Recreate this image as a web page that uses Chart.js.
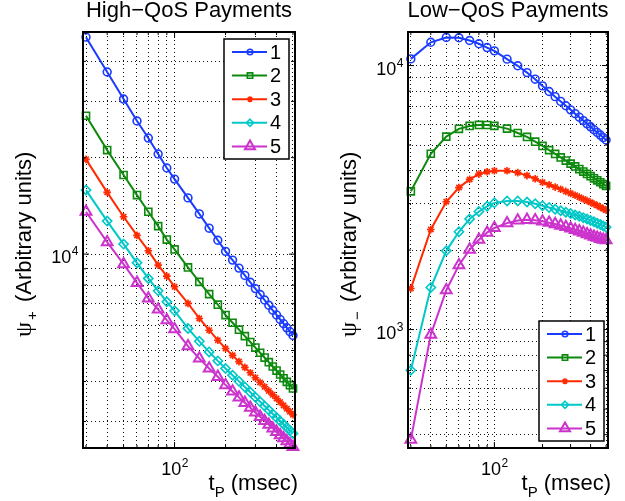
<!DOCTYPE html>
<html>
<head>
<meta charset="utf-8">
<script src="https://cdn.jsdelivr.net/npm/chart.js@4/dist/chart.umd.min.js"></script>
<style>
body { margin: 0; background: #fff; }
#wrap { position: relative; width: 625px; height: 501px; }
canvas { position: absolute; left: 0; top: 0; }
</style>
</head>
<body>
<div id="wrap">
  <canvas id="hi" width="625" height="501"></canvas>
  <canvas id="lo" width="625" height="501"></canvas>
</div>
<script>
// t_P (msec)
var tP = [30, 40, 50, 60, 70, 80, 90, 100, 120, 140, 160, 180, 200, 220, 240, 260, 280, 300, 320, 340, 360, 380, 400, 420, 440, 460, 480, 500];

// High-QoS payments, psi_+
var hq1 = [47600, 37050, 30500, 26040, 23040, 20540, 18570, 17150, 14980, 13350, 12050, 11050, 10200, 9578, 9043, 8578, 8168, 7805, 7480, 7187, 6921, 6678, 6456, 6251, 6062, 5886, 5723, 5571];
var hq2 = [27050, 21130, 17660, 15290, 13560, 12230, 11100, 10345, 9087, 8190, 7500, 6950, 6450, 6106, 5807, 5545, 5314, 5107, 4920, 4752, 4597, 4457, 4327, 4207, 4096, 3992, 3896, 3805];
var hq3 = [19770, 15590, 13080, 11440, 10250, 9240, 8535, 7905, 7015, 6295, 5786, 5385, 5075, 4829, 4616, 4428, 4260, 4111, 3975, 3851, 3739, 3635, 3539, 3451, 3368, 3291, 3219, 3151];
var hq4 = [15850, 12680, 10745, 9393, 8397, 7678, 7096, 6650, 5860, 5340, 4950, 4640, 4395, 4187, 4005, 3845, 3702, 3574, 3458, 3353, 3257, 3168, 3086, 3011, 2940, 2874, 2812, 2754];
var hq5 = [13560, 10900, 9305, 8135, 7275, 6716, 6220, 5830, 5160, 4720, 4395, 4139, 3899, 3723, 3569, 3433, 3312, 3203, 3104, 3014, 2932, 2856, 2786, 2721, 2660, 2603, 2550, 2500];

// Low-QoS payments, psi_-
var lq1 = [10600, 12250, 12780, 12740, 12440, 12090, 11700, 11370, 10575, 9980, 9406, 8880, 8375, 7974, 7625, 7316, 7042, 6797, 6574, 6373, 6187, 6017, 5861, 5715, 5580, 5454, 5336, 5225];
var lq2 = [3340, 4635, 5380, 5760, 5905, 5960, 5955, 5910, 5770, 5555, 5365, 5150, 4960, 4783, 4628, 4489, 4365, 4252, 4149, 4054, 3967, 3887, 3811, 3741, 3676, 3614, 3556, 3502];
var lq3 = [1430, 2395, 3050, 3450, 3705, 3880, 3963, 3995, 3995, 3930, 3830, 3725, 3613, 3535, 3464, 3398, 3337, 3280, 3225, 3174, 3125, 3078, 3033, 2990, 2949, 2909, 2871, 2834];
var lq4 = [701, 1443, 1987, 2346, 2625, 2800, 2930, 3020, 3070, 3070, 3040, 2995, 2945, 2900, 2858, 2818, 2784, 2752, 2718, 2686, 2654, 2622, 2591, 2561, 2530, 2500, 2470, 2440];
var lq5 = [383, 957, 1410, 1754, 2010, 2190, 2330, 2425, 2530, 2590, 2605, 2595, 2570, 2540, 2510, 2478, 2447, 2416, 2386, 2356, 2327, 2299, 2272, 2250, 2228, 2207, 2190, 2180];

var seriesNames = ['1', '2', '3', '4', '5'];
var colors = ['#1a3cff', '#0d8a0d', '#ff2a00', '#00c8c8', '#cc33cc'];
var markers = ['circle', 'rect', 'star', 'rectRot', 'triangle'];
var markerSize = [3.9, 5, 3.8, 4.6, 6.2];
var markerBorder = [1.6, 1.6, 1.6, 1.6, 2];
var legendMarkerSize = [2.8, 3.8, 3, 3.6, 5.8];

// grid / tick values
var xTicks = [30, 40, 50, 60, 70, 80, 90, 100, 200, 300, 400, 500];
var hiYTicks = [3000, 4000, 5000, 6000, 7000, 8000, 9000, 10000, 20000, 30000, 40000];
var loYTicks = [400, 500, 600, 700, 800, 900, 1000, 2000, 3000, 4000, 5000, 6000, 7000, 8000, 9000, 10000];
var xLabelAt = [100];
var hiYLabelAt = [10000];
var loYLabelAt = [1000, 10000];

function drawMarker(ctx, style, x, y, r) {
  ctx.beginPath();
  if (style === 'circle') {
    ctx.arc(x, y, r, 0, 2 * Math.PI);
  } else if (style === 'rect') {
    var h = r * 0.707;
    ctx.rect(x - h, y - h, 2 * h, 2 * h);
  } else if (style === 'rectRot') {
    ctx.moveTo(x, y - r); ctx.lineTo(x + r, y); ctx.lineTo(x, y + r); ctx.lineTo(x - r, y); ctx.closePath();
  } else if (style === 'triangle') {
    for (var k = 0; k < 3; k++) {
      var a = k * 2 * Math.PI / 3;
      if (k === 0) ctx.moveTo(x + Math.sin(a) * r, y - Math.cos(a) * r);
      else ctx.lineTo(x + Math.sin(a) * r, y - Math.cos(a) * r);
    }
    ctx.closePath();
  } else if (style === 'star') {
    var d = r * 0.707;
    ctx.moveTo(x - r, y); ctx.lineTo(x + r, y);
    ctx.moveTo(x, y - r); ctx.lineTo(x, y + r);
    ctx.moveTo(x - d, y - d); ctx.lineTo(x + d, y + d);
    ctx.moveTo(x - d, y + d); ctx.lineTo(x + d, y - d);
  }
  ctx.stroke();
}

function powLabel(ctx, exp, x, y, align) {
  ctx.font = '18px "Liberation Sans", Arial, sans-serif';
  var w1 = ctx.measureText('10').width;
  ctx.font = '12px "Liberation Sans", Arial, sans-serif';
  var w2 = ctx.measureText(String(exp)).width;
  var x0 = align === 'right' ? x - w1 - w2 : x - (w1 + w2) / 2;
  ctx.textAlign = 'left';
  ctx.textBaseline = 'alphabetic';
  ctx.font = '18px "Liberation Sans", Arial, sans-serif';
  ctx.fillText('10', x0, y);
  ctx.font = '12px "Liberation Sans", Arial, sans-serif';
  ctx.fillText(String(exp), x0 + w1 + 0.5, y - 8);
}

function makeDeco(cfg) {
  return {
    id: 'deco',
    afterDraw: function (chart) {
      var ctx = chart.ctx;
      var a = chart.chartArea;
      var xs = chart.scales.x, ys = chart.scales.y;
      ctx.save();
      ctx.fillStyle = '#000';
      ctx.strokeStyle = '#000';

      // inward tick marks on all four sides
      ctx.lineWidth = 1;
      ctx.beginPath();
      xs.ticks.forEach(function (t) {
        var p = xs.getPixelForValue(t.value);
        var len = Math.abs(Math.log10(t.value) % 1) < 1e-9 ? 6 : 3;
        ctx.moveTo(p, a.bottom); ctx.lineTo(p, a.bottom - len);
        ctx.moveTo(p, a.top); ctx.lineTo(p, a.top + len);
      });
      ys.ticks.forEach(function (t) {
        var p = ys.getPixelForValue(t.value);
        var len = Math.abs(Math.log10(t.value) % 1) < 1e-9 ? 6 : 3;
        ctx.moveTo(a.left, p); ctx.lineTo(a.left + len, p);
        ctx.moveTo(a.right, p); ctx.lineTo(a.right - len, p);
      });
      ctx.stroke();

      // axes box
      ctx.lineWidth = 2;
      ctx.strokeRect(a.left, a.top, a.right - a.left, a.bottom - a.top);

      // tick labels
      cfg.xLabelAt.forEach(function (v) {
        powLabel(ctx, Math.round(Math.log10(v)), xs.getPixelForValue(v), 475, 'center');
      });
      cfg.yLabelAt.forEach(function (v) {
        powLabel(ctx, Math.round(Math.log10(v)), a.left - 5, ys.getPixelForValue(v) + 9, 'right');
      });

      // title
      ctx.font = '22px "Liberation Sans", Arial, sans-serif';
      ctx.textAlign = 'center';
      ctx.textBaseline = 'alphabetic';
      ctx.fillText(cfg.title, (a.left + a.right) / 2, 17);

      // x label: t_P (msec), right aligned to the axes
      ctx.textAlign = 'left';
      ctx.font = '22px "Liberation Sans", Arial, sans-serif';
      var wt = ctx.measureText('t').width;
      var wm = ctx.measureText(' (msec)').width;
      ctx.font = '15px "Liberation Sans", Arial, sans-serif';
      var wp = ctx.measureText('P').width;
      var x0 = a.right + 3 - (wt + wp + wm);
      ctx.font = '22px "Liberation Sans", Arial, sans-serif';
      ctx.fillText('t', x0, 490);
      ctx.font = '15px "Liberation Sans", Arial, sans-serif';
      ctx.fillText('P', x0 + wt, 497);
      ctx.font = '22px "Liberation Sans", Arial, sans-serif';
      ctx.fillText(' (msec)', x0 + wt + wp, 490);

      // y label: psi with subscript, rotated
      ctx.save();
      ctx.translate(a.left - 52.5, 337);
      ctx.rotate(-Math.PI / 2);
      ctx.font = '24px "Liberation Serif", "DejaVu Serif", serif';
      ctx.fillText('\u03c8', 0, 0);
      var wpsi = ctx.measureText('\u03c8').width;
      ctx.font = '15px "Liberation Sans", Arial, sans-serif';
      ctx.fillText(cfg.sub, wpsi + 2, 6);
      var wsub = ctx.measureText(cfg.sub).width;
      ctx.font = '22px "Liberation Sans", Arial, sans-serif';
      ctx.fillText(' (Arbitrary units)', wpsi + wsub + 5, 0);
      ctx.restore();

      // legend
      var L = cfg.legend;
      ctx.fillStyle = '#fff';
      ctx.fillRect(L.x, L.y, 65, 120);
      ctx.lineWidth = 1.5;
      ctx.strokeStyle = '#000';
      ctx.strokeRect(L.x, L.y, 65, 120);
      for (var i = 0; i < seriesNames.length; i++) {
        var yy = L.y + 13 + i * 23.6;
        ctx.strokeStyle = colors[i];
        ctx.lineWidth = 2;
        ctx.beginPath();
        ctx.moveTo(L.x + 8, yy); ctx.lineTo(L.x + 43, yy);
        ctx.stroke();
        ctx.lineWidth = markerBorder[i];
        drawMarker(ctx, markers[i], L.x + 26, yy, legendMarkerSize[i]);
        ctx.fillStyle = '#000';
        ctx.font = '20px "Liberation Sans", Arial, sans-serif';
        ctx.textAlign = 'left';
        ctx.textBaseline = 'middle';
        ctx.fillText(seriesNames[i], L.x + 46, yy + 1);
      }
      ctx.restore();
    }
  };
}

function buildDatasets(list) {
  return list.map(function (vals, i) {
    return {
      label: seriesNames[i],
      data: tP.map(function (t, k) { return { x: t, y: vals[k] }; }),
      borderColor: colors[i],
      borderWidth: 2,
      pointStyle: markers[i],
      pointRadius: markerSize[i],
      pointBorderWidth: markerBorder[i],
      pointBorderColor: colors[i],
      pointBackgroundColor: 'rgba(255,255,255,0)',
      tension: 0,
      clip: false
    };
  });
}

function axis(min, max, tickList, horizontal) {
  return {
    type: 'logarithmic',
    min: min,
    max: max,
    afterBuildTicks: function (s) { s.ticks = tickList.map(function (v) { return { value: v }; }); },
    afterFit: function (s) { if (horizontal) s.height = 0; else s.width = 0; },
    ticks: { display: false },
    grid: { color: '#111', lineWidth: 1, drawTicks: false },
    border: { display: false, dash: [1, 3] }
  };
}

function qosChart(id, sets, yMin, yMax, yTicks, pad, deco) {
  return new Chart(document.getElementById(id), {
    type: 'line',
    data: { datasets: buildDatasets(sets) },
    options: {
      responsive: false,
      animation: false,
      events: [],
      layout: { padding: pad },
      scales: {
        x: axis(28.8, 514, xTicks, true),
        y: axis(yMin, yMax, yTicks, false)
      },
      plugins: { legend: { display: false }, tooltip: { enabled: false } }
    },
    plugins: [makeDeco(deco)]
  });
}

qosChart('hi', [hq1, hq2, hq3, hq4, hq5], 2480, 49400, hiYTicks,
  { left: 83, top: 32, right: 330, bottom: 53 },
  { title: 'High\u2212QoS Payments', sub: '+', xLabelAt: xLabelAt, yLabelAt: hiYLabelAt, legend: { x: 224, y: 39 } });

qosChart('lo', [lq1, lq2, lq3, lq4, lq5], 356, 13400, loYTicks,
  { left: 408, top: 32, right: 17, bottom: 53 },
  { title: 'Low\u2212QoS Payments', sub: '\u2212', xLabelAt: xLabelAt, yLabelAt: loYLabelAt, legend: { x: 539, y: 321 } });
</script>
</body>
</html>
